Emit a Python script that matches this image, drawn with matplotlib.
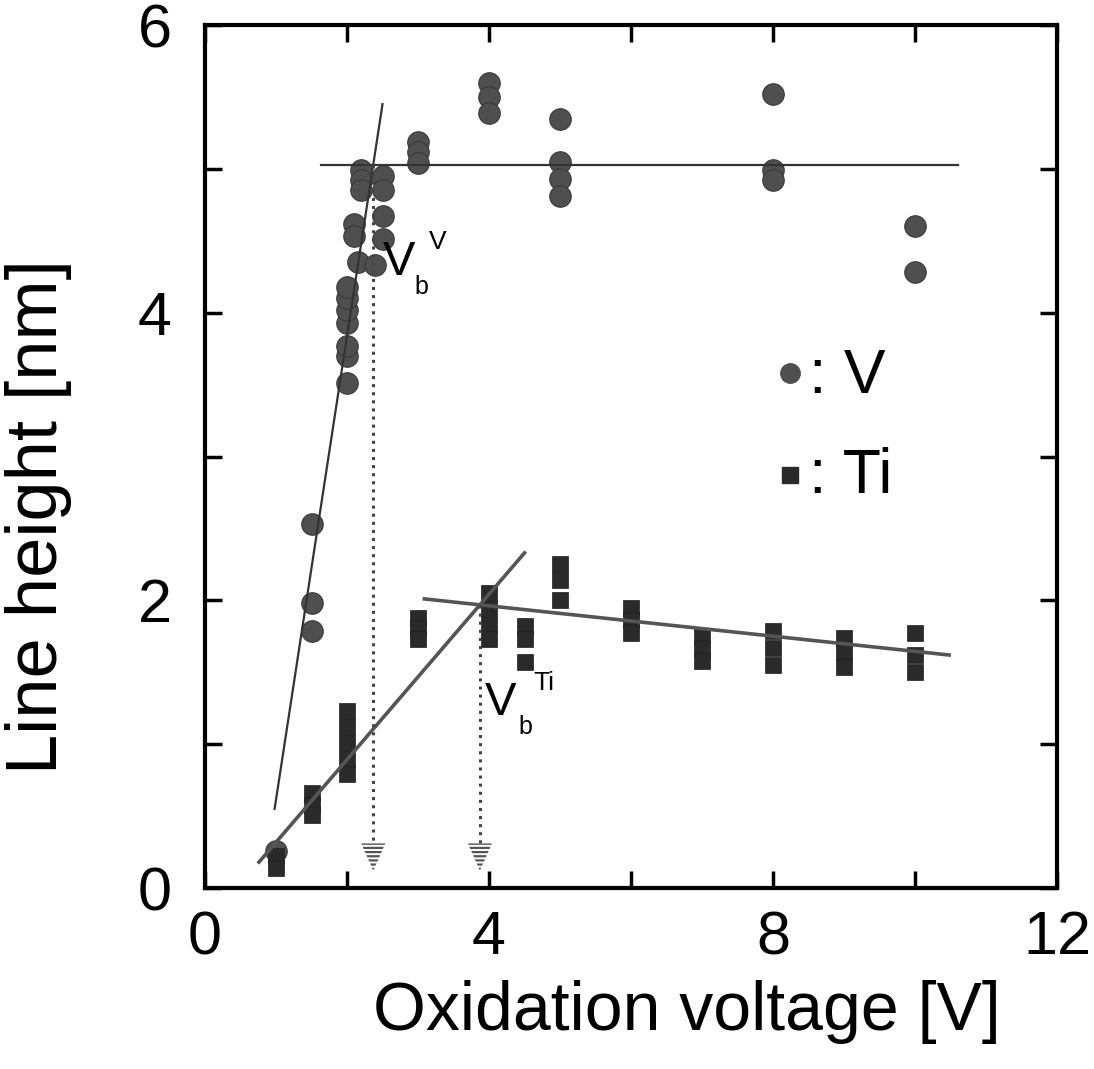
import numpy as np
import matplotlib
matplotlib.use("Agg")
import matplotlib.pyplot as plt
from matplotlib.patches import Polygon

plt.rcParams['font.family'] = ['Liberation Sans', 'DejaVu Sans']
plt.rcParams['hatch.linewidth'] = 1.6

# V film: oxidation voltage [V] and line height [nm]
V_x = [1.0,
       1.5, 1.5, 1.5,
       2.0, 2.0, 2.0, 2.0, 2.0, 2.0, 2.0,
       2.1, 2.1, 2.15,
       2.2, 2.2, 2.2,
       2.4,
       2.5, 2.5, 2.5, 2.5,
       3.0, 3.0, 3.0,
       4.0, 4.0, 4.0,
       5.0, 5.0, 5.0, 5.0,
       8.0, 8.0, 8.0,
       10.0, 10.0]
V_y = [0.26,
       2.53, 1.98, 1.79,
       3.51, 3.70, 3.77, 3.93, 4.02, 4.10, 4.18,
       4.62, 4.53, 4.35,
       4.99, 4.92, 4.85,
       4.33,
       4.95, 4.85, 4.67, 4.51,
       5.19, 5.12, 5.04,
       5.60, 5.50, 5.39,
       5.35, 5.05, 4.93, 4.81,
       5.52, 4.99, 4.92,
       4.60, 4.28]

# Ti film
Ti_x = [1.0, 1.0,
        1.5, 1.5, 1.5,
        2.0, 2.0, 2.0, 2.0, 2.0,
        3.0, 3.0, 3.0,
        4.0, 4.0, 4.0, 4.0,
        4.5, 4.5, 4.5,
        5.0, 5.0, 5.0,
        6.0, 6.0, 6.0,
        7.0, 7.0, 7.0,
        8.0, 8.0, 8.0,
        9.0, 9.0, 9.0,
        10.0, 10.0, 10.0]
Ti_y = [0.22, 0.14,
        0.66, 0.58, 0.51,
        1.23, 1.12, 1.01, 0.90, 0.79,
        1.88, 1.81, 1.73,
        2.05, 1.94, 1.83, 1.73,
        1.82, 1.73, 1.57,
        2.25, 2.14, 2.00,
        1.95, 1.86, 1.77,
        1.75, 1.66, 1.58,
        1.79, 1.67, 1.55,
        1.74, 1.64, 1.54,
        1.77, 1.62, 1.50]

# fitted lines (end points)
V_rise_x = [0.98, 2.50]
V_rise_y = [0.55, 5.45]
V_sat_x = [1.63, 10.6]
V_sat_y = [5.03, 5.03]
Ti_rise_x = [0.76, 4.50]
Ti_rise_y = [0.18, 2.33]
Ti_sat_x = [3.09, 10.48]
Ti_sat_y = [2.01, 1.62]


def cross(ax1, ay1, bx1, by1):
    # intersection of two straight lines given by end points
    m1 = (ay1[1] - ay1[0]) / (ax1[1] - ax1[0])
    m2 = (by1[1] - by1[0]) / (bx1[1] - bx1[0])
    x = (by1[0] - ay1[0] + m1 * ax1[0] - m2 * bx1[0]) / (m1 - m2)
    return x, ay1[0] + m1 * (x - ax1[0])


fig = plt.figure(figsize=(10.94, 10.69), dpi=100)
ax = fig.add_axes([0.1874, 0.1693, 0.7788, 0.8073])

ax.plot(V_x, V_y, 'o', ms=15.5, color='#4f4f4f', mec='#3a3a3a', mew=0.8, zorder=3)
ax.plot(Ti_x, Ti_y, 's', ms=12, color='#2a2a2a', mec='#1e1e1e', mew=0.5, zorder=3)

ax.plot(V_rise_x, V_rise_y, '-', color='#333333', lw=1.6, zorder=4)
ax.plot(V_sat_x, V_sat_y, '-', color='#333333', lw=1.6, zorder=4)
ax.plot(Ti_rise_x, Ti_rise_y, '-', color='#555555', lw=2.6, zorder=4)
ax.plot(Ti_sat_x, Ti_sat_y, '-', color='#555555', lw=2.6, zorder=4)

# break points with dotted arrows
for bx, by in [cross(V_rise_x, V_rise_y, V_sat_x, V_sat_y),
               cross(Ti_rise_x, Ti_rise_y, Ti_sat_x, Ti_sat_y)]:
    ax.plot([bx, bx], [by, 0.31], ':', color='#444444', lw=2.2, zorder=5)
    tri = Polygon([[bx - 0.17, 0.31], [bx + 0.17, 0.31], [bx, 0.12]],
                  closed=True, facecolor='none', edgecolor='#555555',
                  hatch='----', lw=0, zorder=5)
    ax.add_patch(tri)

# labels of the break points
ax.text(2.50, 4.26, 'V', fontsize=35, ha='left', va='baseline')
ax.text(2.95, 4.13, 'b', fontsize=18, ha='left', va='baseline')
ax.text(3.16, 4.44, 'V', fontsize=19, ha='left', va='baseline')
ax.text(3.94, 1.20, 'V', fontsize=34, ha='left', va='baseline')
ax.text(4.42, 1.07, 'b', fontsize=18, ha='left', va='baseline')
ax.text(4.63, 1.38, 'Ti', fontsize=19, ha='left', va='baseline')

# key
ax.plot([0.687], [0.597], 'o', ms=14, color='#4f4f4f', transform=ax.transAxes)
ax.plot([0.687], [0.479], 's', ms=11, color='#2a2a2a', transform=ax.transAxes)
ax.text(0.709, 0.574, ': V', fontsize=45, transform=ax.transAxes, va='baseline')
ax.text(0.709, 0.458, ': Ti', fontsize=45, transform=ax.transAxes, va='baseline')

ax.set_xlim(0, 12)
ax.set_ylim(0, 6)
ax.set_xticks([0, 4, 8, 12])
ax.set_xticks([2, 6, 10], minor=True)
ax.set_yticks([0, 2, 4, 6])
ax.set_yticks([1, 3, 5], minor=True)
ax.tick_params(which='both', direction='in', top=True, right=True,
               length=12, width=2.5)
ax.tick_params(axis='x', which='major', labelsize=44, pad=16)
ax.tick_params(axis='y', which='major', labelsize=44, pad=24)
for s in ax.spines.values():
    s.set_linewidth(3)

ax.set_xlabel('Oxidation voltage [V]', fontsize=49)
ax.set_ylabel('Line height [nm]', fontsize=52)
ax.xaxis.set_label_coords(0.566, -0.107)
ax.yaxis.set_label_coords(-0.156, 0.43)

fig.savefig('out.png', dpi=100)
